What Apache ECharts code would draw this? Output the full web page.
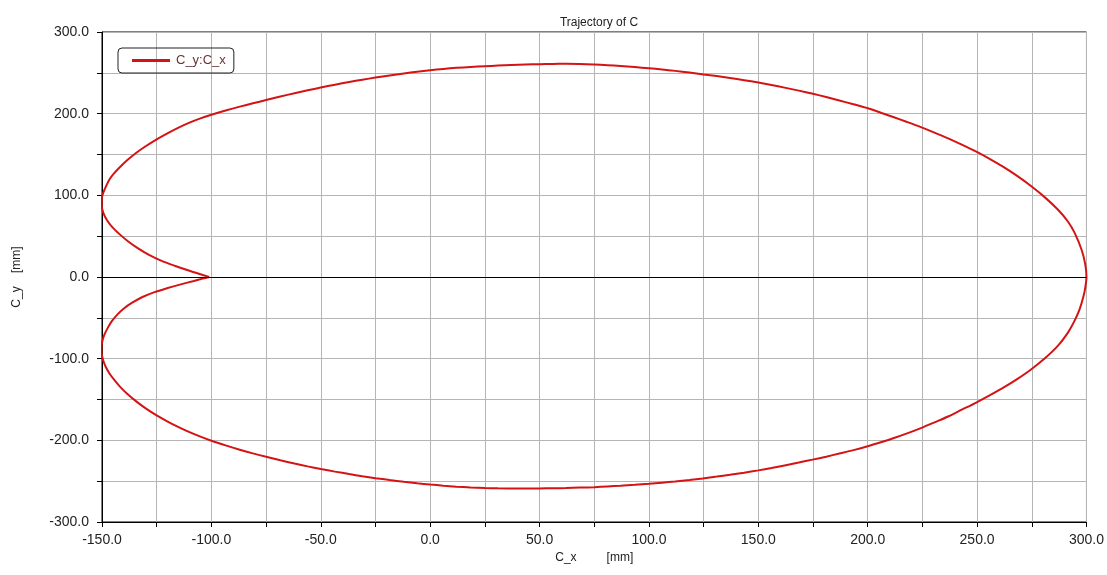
<!DOCTYPE html>
<html>
<head>
<meta charset="utf-8">
<script src="https://cdn.jsdelivr.net/npm/echarts@6/dist/echarts.min.js"></script>
<style>
html,body{margin:0;padding:0;background:#fff;}
#chart{width:1107px;height:575px;}
</style>
</head>
<body>
<div id="chart"></div>
<script>
// Trajectory of point C, from the cusp, over the top, down the right side,
// along the bottom and back to the cusp.
const cxValues = [
  -101, -105, -110, -116.5, -123, -128.5, -133.5, -138, -142, -145.3, -147.7, -149.3, -150.1, -150.1,
  -149.3, -148, -146.6, -144.6, -142, -138.8, -134.9, -130.4, -125.4, -120.1, -115, -110, -105, -100,
  -93.5, -87, -81, -75, -68.5, -62, -56, -50, -43.5, -37, -31, -25, -18.5, -12, -6, 0,
  6, 12, 18.5, 25, 31, 37, 43.5, 50, 56, 62, 68.5, 75, 81, 87, 93.5, 100,
  106, 112, 118.5, 125, 131, 137, 143.5, 150, 156, 162, 168.5, 175, 181, 187, 193.5, 200,
  206, 212, 218, 224.3, 230.5, 237, 243, 249.4, 255.7, 262, 268.3, 274.5, 281, 287, 291.5, 294.6,
  297.8, 299.4, 300,
  299.5, 298.6, 296.8, 294.3, 291.3, 287, 281, 274.5, 268.3, 262, 255.7, 249.4, 243, 237, 230.5, 224.3,
  218, 212, 206, 200, 193.5, 187, 181, 174.8, 168.5, 162, 156, 150, 143.5, 137, 131, 124.6,
  118.5, 112, 106, 100, 93.5, 87, 81, 75, 68.5, 62, 56, 50, 43.5, 37, 31, 25,
  18.5, 12, 6, 0, -6, -12, -18.5, -25, -31, -37, -43.5, -50, -56, -62, -68.5, -75,
  -81, -87, -93.5, -100, -105, -110, -115, -120, -125, -130.2, -134.5, -138.5, -141.7, -144.3, -146.5, -148.2,
  -149.4, -150.1, -150.2, -149.8, -148.8, -147.3, -145.5, -143, -140, -136.2, -131.5, -126, -120, -114, -108, -104,
  -101
];
const cyValues = [
  0, 3.4, 7.6, 13.5, 20, 27, 35, 43.5, 52.5, 61, 69.5, 78, 87, 96,
  104, 112, 119.5, 126.5, 134, 142.3, 151, 159.5, 168, 176, 183, 189, 194.2, 198.6,
  203.8, 208.6, 212.7, 216.7, 221, 225, 228.6, 232, 235.5, 238.8, 241.6, 244.2, 246.8, 249.2, 251.3, 253.2,
  254.8, 256.1, 257.2, 258.1, 258.9, 259.6, 260.2, 260.6, 260.9, 261, 260.8, 260.2, 259.4, 258.4, 257.1, 255.6,
  254.1, 252.4, 250.3, 248, 246, 243.7, 241, 238.1, 235.1, 231.9, 228.2, 224.3, 220.4, 216.2, 211.5, 206.6,
  201.2, 195.6, 189.8, 183.5, 176.8, 169.4, 162, 153.7, 144.7, 134.8, 123.8, 111.7, 97.5, 82.3, 68, 54,
  33, 16, 0,
  -12, -24, -40, -55, -69, -84, -99.5, -113.5, -125, -135.5, -145, -154, -162.5, -170.5, -178, -185,
  -191.5, -197.2, -202.4, -207.3, -212, -216.2, -220, -223.6, -227.2, -230.7, -233.9, -236.8, -239.6, -242.2, -244.4, -246.6,
  -248.5, -250.3, -251.8, -253.2, -254.5, -255.6, -256.5, -257.3, -257.9, -258.4, -258.7, -258.9, -259, -259, -258.8, -258.4,
  -257.7, -256.7, -255.5, -254.1, -252.5, -250.7, -248.6, -246.3, -243.9, -241.3, -238.3, -235.1, -231.9, -228.4, -224.4, -220.2,
  -216, -211.5, -206.2, -200.5, -195.5, -190, -183.8, -177, -169.5, -160.5, -152, -143, -134.5, -126.4, -118.5, -110.5,
  -102.5, -94.5, -86, -78, -70, -62, -54, -46, -38.5, -31.5, -24.5, -18.5, -13.5, -9, -4.8, -2,
  0
];
const seriesName = 'C_y:C_x';
const xAxisRange = [-150, 300];
const yAxisRange = [-300, 300];
const chartTitle = 'Trajectory of C';
const xAxisTitle = 'C_x         [mm]';
const yAxisTitle = 'C_y    [mm]';

const points = cxValues.map((x, i) => [x, cyValues[i]]);
const font = 'Liberation Sans, Arial, sans-serif';

const chart = echarts.init(document.getElementById('chart'));
chart.setOption({
  animation: false,
  backgroundColor: '#ffffff',
  title: {
    text: chartTitle,
    left: 594,
    textAlign: 'center',
    top: 12,
    textStyle: { fontFamily: font, fontSize: 12, fontWeight: 'normal', color: '#222' }
  },
  legend: {
    data: [{ name: seriesName, icon: 'rect' }],
    left: 118,
    top: 48,
    itemWidth: 38,
    itemHeight: 3,
    itemGap: 0,
    padding: [6, 8, 6, 14],
    borderColor: '#222',
    borderWidth: 1,
    borderRadius: 4,
    textStyle: { fontFamily: font, fontSize: 13, color: '#6a3434', padding: [3, 0, 0, 1] }
  },
  grid: {
    left: 102, right: 20, top: 32, bottom: 53,
    show: true, borderColor: '#000', borderWidth: 1, backgroundColor: '#fff'
  },
  xAxis: {
    type: 'value',
    min: xAxisRange[0], max: xAxisRange[1], interval: 25,
    name: xAxisTitle, nameLocation: 'middle', nameGap: 30,
    nameTextStyle: { fontFamily: font, fontSize: 12, color: '#222' },
    axisLine: { show: true, onZero: false, lineStyle: { color: '#000', width: 1 } },
    axisTick: { show: true, length: 5, lineStyle: { color: '#000' } },
    axisLabel: {
      margin: 11, fontFamily: font, fontSize: 14, color: '#222',
      formatter: v => (v % 50 === 0 ? v.toFixed(1) : '')
    },
    splitLine: { show: true, lineStyle: { color: '#b5b5b5', width: 1 } }
  },
  yAxis: {
    type: 'value',
    min: yAxisRange[0], max: yAxisRange[1], interval: 50,
    name: yAxisTitle, nameLocation: 'middle', nameGap: 79, nameRotate: 90,
    nameTextStyle: { fontFamily: font, fontSize: 12, color: '#222' },
    axisLine: { show: true, onZero: false, lineStyle: { color: '#000', width: 1 } },
    axisTick: { show: true, length: 5, lineStyle: { color: '#000' } },
    axisLabel: {
      margin: 13, fontFamily: font, fontSize: 14, color: '#222',
      formatter: v => (v % 100 === 0 ? v.toFixed(1) : '')
    },
    splitLine: { show: true, lineStyle: { color: '#b5b5b5', width: 1 } }
  },
  series: [{
    name: seriesName,
    type: 'line',
    data: points,
    showSymbol: false,
    symbol: 'none',
    smooth: 0.3,
    lineStyle: { color: '#d41414', width: 2 },
    itemStyle: { color: '#d41414' },
    markLine: {
      silent: true,
      symbol: 'none',
      label: { show: false },
      lineStyle: { color: '#000', width: 1, type: 'solid' },
      data: [{ yAxis: 0 }]
    }
  }]
});
</script>
</body>
</html>
